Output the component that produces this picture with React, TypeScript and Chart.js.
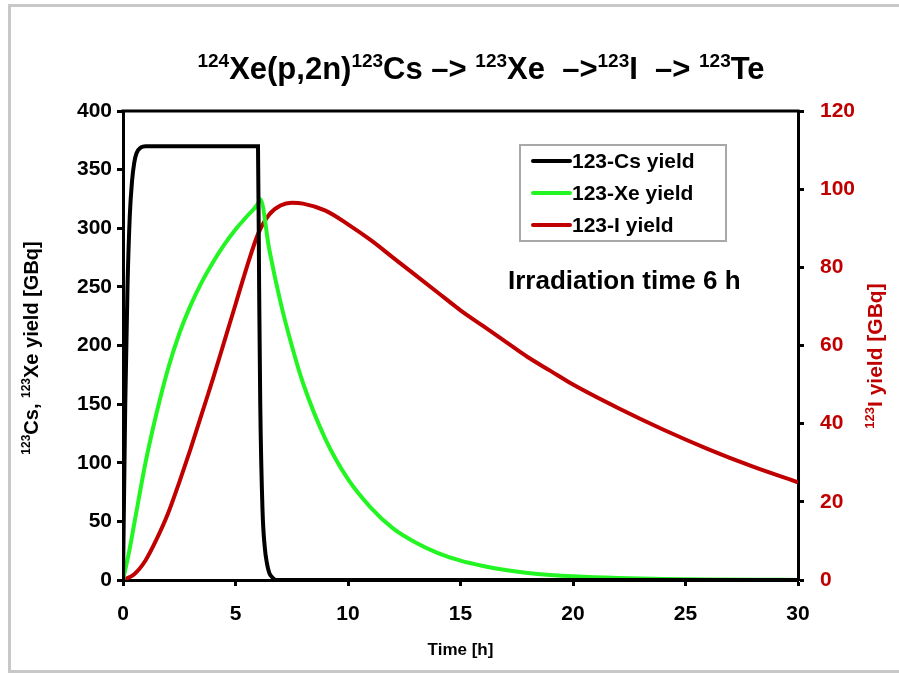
import React, { useEffect, useRef } from "react";
import { Chart, registerables } from "chart.js";

Chart.register(...registerables);

// ---- Data ----
const csTime = [0, 0.1, 0.2, 0.3, 0.4, 0.5, 0.6, 0.8, 1.0, 6.0, 6.05, 6.1, 6.2, 6.3, 6.4, 6.5, 6.6, 6.8, 10, 20, 30];
const csYield = [0, 150, 250, 310, 340, 356, 364, 369, 370, 370, 250, 150, 60, 28, 14, 6, 3, 0, 0, 0, 0];

const xeTime = [0, 0.25, 0.5, 1, 1.5, 2, 2.5, 3, 3.5, 4, 4.5, 5, 5.5, 6, 6.1, 6.5, 7, 7.5, 8, 9, 10, 11, 12, 13, 14, 15, 16, 17, 18, 19, 20, 22, 24, 26, 28, 30];
const xeYield = [0, 22, 48, 100, 143, 180, 210, 234, 254, 271, 286, 299, 310, 321, 325, 282, 237, 200, 168, 120, 86, 62, 44, 32, 23, 16.5, 12, 8.5, 6, 4.3, 3.1, 1.6, 0.8, 0.4, 0.2, 0.1];

const iTime = [0, 0.5, 1, 1.5, 2, 2.5, 3, 3.5, 4, 4.5, 5, 5.5, 6, 6.5, 7, 7.5, 8, 9, 10, 11, 12, 13, 14, 15, 16, 17, 18, 19, 20, 22, 24, 26, 28, 30];
const iYield = [0, 1.5, 5, 10.5, 17, 25, 33.5, 42.5, 51.5, 61, 70.5, 80, 88.5, 93.5, 95.8, 96.5, 96.3, 94.5, 91, 87, 82.5, 78, 73.5, 69, 65, 61, 57, 53.5, 50, 44, 38.5, 33.5, 29, 25];

const seriesLabels = ["123-Cs yield", "123-Xe yield", "123-I yield"];
const seriesColors = ["#000000", "#22F522", "#C00000"];

const xTicks = { min: 0, max: 30, step: 5 };
const yLeftTicks = { min: 0, max: 400, step: 50 };
const yRightTicks = { min: 0, max: 120, step: 20 };

const FONT = "'Liberation Sans', Arial, sans-serif";

type Seg = { t: string; sup?: boolean };

function drawRich(ctx: CanvasRenderingContext2D, segs: Seg[], size: number, supSize: number, x: number, y: number, align: "center" | "left", color: string) {
  ctx.save();
  ctx.fillStyle = color;
  ctx.textBaseline = "alphabetic";
  ctx.textAlign = "left";
  const widths = segs.map((s) => {
    ctx.font = `bold ${s.sup ? supSize : size}px ${FONT}`;
    return ctx.measureText(s.t).width;
  });
  const total = widths.reduce((a, b) => a + b, 0);
  let cx = align === "center" ? x - total / 2 : x;
  segs.forEach((s, i) => {
    ctx.font = `bold ${s.sup ? supSize : size}px ${FONT}`;
    ctx.fillText(s.t, cx, s.sup ? y - size * 0.38 : y);
    cx += widths[i];
  });
  ctx.restore();
}

const decorPlugin = {
  id: "decor",
  afterDraw(chart: any) {
    const ctx: CanvasRenderingContext2D = chart.ctx;
    const a = chart.chartArea;
    ctx.save();
    // outer gray frame
    ctx.strokeStyle = "#c8c8c8";
    ctx.lineWidth = 3;
    ctx.strokeRect(9.5, 5.5, 900, 666);
    // top border of plot
    ctx.strokeStyle = "#000";
    ctx.lineWidth = 3;
    ctx.beginPath();
    ctx.moveTo(a.left - 1.5, a.top);
    ctx.lineTo(a.right + 1.5, a.top);
    ctx.stroke();
    ctx.restore();

    // chart title
    drawRich(
      ctx,
      [
        { t: "124", sup: true },
        { t: "Xe(p,2n)" },
        { t: "123", sup: true },
        { t: "Cs \u2013> " },
        { t: "123", sup: true },
        { t: "Xe  \u2013>" },
        { t: "123", sup: true },
        { t: "I  \u2013> " },
        { t: "123", sup: true },
        { t: "Te" },
      ],
      31,
      19,
      481,
      79,
      "center",
      "#000"
    );

    // left axis title
    ctx.save();
    ctx.translate(38, 348);
    ctx.rotate(-Math.PI / 2);
    drawRich(
      ctx,
      [{ t: "123", sup: true }, { t: "Cs, " }, { t: "123", sup: true }, { t: "Xe yield [GBq]" }],
      20,
      12,
      0,
      0,
      "center",
      "#000"
    );
    ctx.restore();

    // right axis title
    ctx.save();
    ctx.translate(882, 356);
    ctx.rotate(-Math.PI / 2);
    drawRich(ctx, [{ t: "123", sup: true }, { t: "I yield [GBq]" }], 21, 13, 0, 0, "center", "#C00000");
    ctx.restore();

    // annotation
    drawRich(ctx, [{ t: "Irradiation time 6 h" }], 26, 16, 508, 289, "left", "#000");

    // legend
    ctx.save();
    ctx.strokeStyle = "#a8a8a8";
    ctx.lineWidth = 2;
    ctx.strokeRect(520, 145, 206, 96);
    const rows = [161, 193, 225];
    chart.data.datasets.forEach((ds: any, i: number) => {
      ctx.strokeStyle = ds.borderColor;
      ctx.lineWidth = 4;
      ctx.lineCap = "round";
      ctx.beginPath();
      ctx.moveTo(533, rows[i]);
      ctx.lineTo(570, rows[i]);
      ctx.stroke();
      ctx.fillStyle = "#000";
      ctx.font = `bold 21px ${FONT}`;
      ctx.textBaseline = "middle";
      ctx.textAlign = "left";
      ctx.fillText(ds.label, 572, rows[i] + 1);
    });
    ctx.restore();
  },
};

function toPoints(xs: number[], ys: number[]) {
  return xs.map((x, i) => ({ x, y: ys[i] }));
}

export default function App() {
  const ref = useRef<HTMLCanvasElement | null>(null);
  useEffect(() => {
    if (!ref.current) return;
    const tickFont = { family: FONT, size: 21, weight: "bold" as const };
    const chart = new Chart(ref.current, {
      type: "line",
      data: {
        datasets: [
          {
            label: seriesLabels[0],
            data: toPoints(csTime, csYield),
            borderColor: seriesColors[0],
            backgroundColor: seriesColors[0],
            borderWidth: 4,
            pointRadius: 0,
            cubicInterpolationMode: "monotone",
            yAxisID: "y",
          },
          {
            label: seriesLabels[1],
            data: toPoints(xeTime, xeYield),
            borderColor: seriesColors[1],
            backgroundColor: seriesColors[1],
            borderWidth: 4,
            pointRadius: 0,
            cubicInterpolationMode: "monotone",
            yAxisID: "y",
          },
          {
            label: seriesLabels[2],
            data: toPoints(iTime, iYield),
            borderColor: seriesColors[2],
            backgroundColor: seriesColors[2],
            borderWidth: 4,
            pointRadius: 0,
            cubicInterpolationMode: "monotone",
            yAxisID: "y2",
          },
        ],
      },
      options: {
        animation: false,
        responsive: true,
        maintainAspectRatio: false,
        layout: { padding: { top: 111, left: 0, right: 0, bottom: 0 } },
        plugins: { legend: { display: false }, title: { display: false }, tooltip: { enabled: false } },
        scales: {
          x: {
            type: "linear",
            min: xTicks.min,
            max: xTicks.max,
            ticks: { stepSize: xTicks.step, color: "#000", font: tickFont, padding: 16 },
            grid: { drawOnChartArea: false, drawTicks: true, tickLength: 6, tickColor: "#000", tickWidth: 3 },
            border: { display: true, color: "#000", width: 3 },
            title: { display: true, text: "Time [h]", color: "#000", font: { family: FONT, size: 17, weight: "bold" }, padding: { top: 4, bottom: 12 } },
            afterFit: (s: any) => {
              s.height = 93;
            },
          },
          y: {
            position: "left",
            min: yLeftTicks.min,
            max: yLeftTicks.max,
            ticks: { stepSize: yLeftTicks.step, color: "#000", font: tickFont, padding: 5 },
            grid: { drawOnChartArea: false, drawTicks: true, tickLength: 6, tickColor: "#000", tickWidth: 3 },
            border: { display: true, color: "#000", width: 3 },
            afterFit: (s: any) => {
              s.width = 123;
            },
          },
          y2: {
            position: "right",
            min: yRightTicks.min,
            max: yRightTicks.max,
            ticks: { stepSize: yRightTicks.step, color: "#C00000", font: tickFont, padding: 16 },
            grid: { drawOnChartArea: false, drawTicks: true, tickLength: 6, tickColor: "#000", tickWidth: 3 },
            border: { display: true, color: "#000", width: 3 },
            afterFit: (s: any) => {
              s.width = 101;
            },
          },
        },
      },
      plugins: [decorPlugin],
    });
    return () => chart.destroy();
  }, []);
  return (
    <div style={{ position: "fixed", left: 0, top: 0, width: 899, height: 673, background: "#fff" }}>
      <canvas ref={ref} />
    </div>
  );
}
